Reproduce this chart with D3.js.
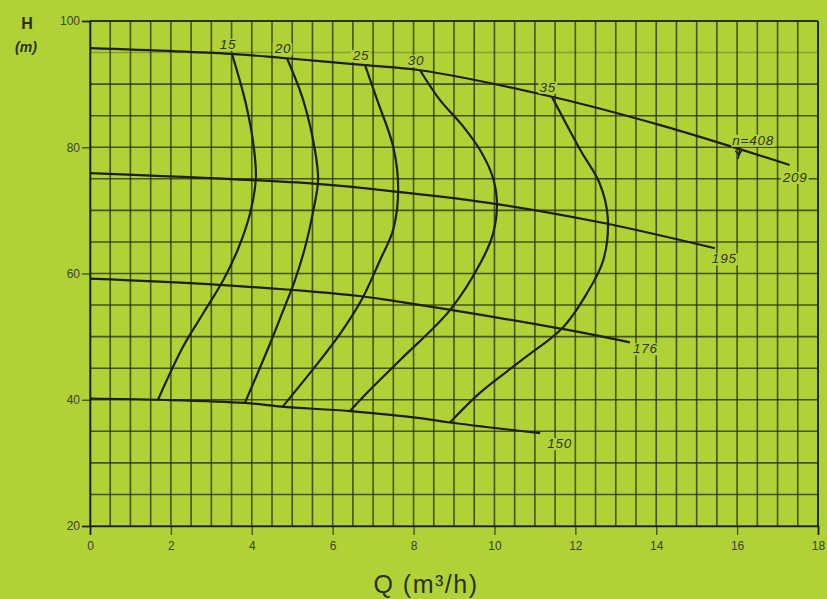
<!DOCTYPE html>
<html>
<head>
<meta charset="utf-8">
<script src="https://cdn.jsdelivr.net/npm/d3@7"></script>
<style>
  body { margin: 0; background: #b1d236; }
  svg { display: block; font-family: "Liberation Sans", Arial, sans-serif; }
</style>
</head>
<body>
<svg id="chart" width="827" height="599"></svg>
<script>
// axis ticks
const xTicks = [0, 2, 4, 6, 8, 10, 12, 14, 16, 18];
const yTicks = [20, 40, 60, 80, 100];

// head curves (Q m3/h, H m) per impeller diameter
const headLabels = ["209", "195", "176", "150"];
const head209 = [[0, 95.7], [3.46, 94.8], [4.87, 94.1], [6.8, 93.0], [8.16, 92.2], [11.42, 88.0], [14.1, 83.5], [17.3, 77.2]];
const head195 = [[0, 75.9], [5.6, 74.2], [7.67, 72.9], [10.06, 71.0], [12.7, 68.0], [15.45, 64.0]];
const head176 = [[0, 59.2], [3.2, 58.2], [6.7, 56.4], [7.67, 55.5], [11.6, 51.3], [13.35, 49.1]];
const head150 = [[0, 40.2], [1.7, 40.0], [3.83, 39.5], [4.74, 38.9], [6.43, 38.2], [8.16, 37.1], [8.9, 36.4], [11.13, 34.7]];

// efficiency curves (%)
const effLabels = ["15", "20", "25", "30", "35"];
const eff15 = [[3.51, 94.8], [3.85, 87], [4.05, 80], [4.1, 75], [3.96, 69.6], [3.68, 64.2], [3.3, 59.0], [2.8, 53.7], [2.3, 48.4], [1.68, 40.0]];
const eff20 = [[4.87, 94.1], [5.27, 87.5], [5.56, 79.6], [5.64, 74.8], [5.51, 69.6], [5.32, 64.2], [5.07, 59.0], [4.75, 53.7], [4.42, 48.4], [3.83, 39.5]];
const eff25 = [[6.8, 93.0], [7.1, 87.5], [7.5, 80], [7.62, 73.5], [7.5, 67], [7.17, 62.1], [6.73, 56], [6.2, 50.6], [5.56, 45.2], [4.75, 38.8]];
const eff30 = [[8.16, 92.2], [8.65, 87.5], [9.2, 83.5], [9.64, 79.6], [9.94, 75.6], [10.06, 71.6], [9.97, 66.4], [9.69, 62.1], [8.9, 54.2], [7.67, 46.3], [6.85, 41.1], [6.43, 38.2]];
const eff35 = [[11.42, 88], [12.12, 79.6], [12.6, 74.3], [12.8, 69], [12.69, 62.1], [12.29, 56.9], [11.7, 51.5], [10.68, 46.3], [9.64, 41.1], [8.9, 36.4]];

// speed marker on the 209 curve
const speedLabel = "n=408";
const speedPoint = [16.05, 79.6];

const headCurves = [head209, head195, head176, head150];
const effCurves = [eff15, eff20, eff25, eff30, eff35];

// label nudges in px (layout only)
const headLabelShift = [[-7, 17], [-3, 15], [3, 11], [7, 15]];

const bg = "#b1d236";
const ink = "#1c1f14";
const svg = d3.select("#chart");

const x = d3.scaleLinear().domain([0, 18]).range([90, 818]);
const y = d3.scaleLinear().domain([20, 100]).range([526, 21]);

// grid: every 0.5 on Q, every 5 on H
const grid = svg.append("g")
  .attr("stroke", "#26301a")
  .attr("stroke-opacity", 0.78)
  .attr("stroke-width", 1.6);

grid.selectAll(".vgrid")
  .data(d3.range(0, 18.01, 0.5))
  .enter().append("line")
  .attr("x1", d => x(d)).attr("x2", d => x(d))
  .attr("y1", y(100)).attr("y2", y(20));

grid.selectAll(".hgrid")
  .data(d3.range(20, 100.01, 5))
  .enter().append("line")
  .attr("x1", x(0)).attr("x2", x(18))
  .attr("y1", d => y(d)).attr("y2", d => y(d))
  .attr("stroke-opacity", d => d === 95 ? 0.3 : 0.78);

// axes
const xAxis = svg.append("g")
  .attr("transform", `translate(0,${y(20)})`)
  .call(d3.axisBottom(x).tickValues(xTicks).tickSize(9).tickPadding(6));
const yAxis = svg.append("g")
  .attr("transform", `translate(${x(0)},0)`)
  .call(d3.axisLeft(y).tickValues(yTicks).tickSize(8).tickPadding(2));

[xAxis, yAxis].forEach(a => {
  a.select(".domain").attr("stroke", ink).attr("stroke-width", 1.6);
  a.selectAll(".tick line").attr("stroke", ink).attr("stroke-width", 1.4).attr("stroke-opacity", 0.7);
  a.selectAll(".tick text")
    .attr("fill", "#3b4230")
    .style("font-size", "12px")
    .style("font-family", "'Liberation Sans', Arial, sans-serif");
});

// frame top and right
svg.append("line")
  .attr("x1", x(0)).attr("x2", x(18)).attr("y1", y(100)).attr("y2", y(100))
  .attr("stroke", ink).attr("stroke-width", 1.6);
svg.append("line")
  .attr("x1", x(18)).attr("x2", x(18)).attr("y1", y(100)).attr("y2", y(20))
  .attr("stroke", ink).attr("stroke-width", 1.6);

const line = d3.line()
  .x(d => x(d[0]))
  .y(d => y(d[1]))
  .curve(d3.curveCatmullRom.alpha(0.5));

svg.append("g").selectAll("path")
  .data(headCurves.concat(effCurves))
  .enter().append("path")
  .attr("d", line)
  .attr("fill", "none")
  .attr("stroke", ink)
  .attr("stroke-width", 2.2);

// labels with a patch of background behind them
function addLabel(text, px, py, anchor) {
  const g = svg.append("g");
  const t = g.append("text")
    .attr("x", px).attr("y", py)
    .attr("text-anchor", anchor)
    .attr("fill", "#2e3322")
    .style("font-size", "13.5px")
    .style("font-style", "italic")
    .style("letter-spacing", "0.8px")
    .text(text);
  const b = t.node().getBBox();
  g.insert("rect", "text")
    .attr("x", b.x - 1).attr("y", b.y + 2)
    .attr("width", b.width + 2).attr("height", b.height - 3)
    .attr("fill", bg);
}

headCurves.forEach((c, i) => {
  const end = c[c.length - 1];
  addLabel(headLabels[i], x(end[0]) + headLabelShift[i][0], y(end[1]) + headLabelShift[i][1], "start");
});

effCurves.forEach((c, i) => {
  const top = c[0];
  addLabel(effLabels[i], x(top[0]) - 4, y(top[1]) - 5, "middle");
});

// n=408 marker
const sx = x(speedPoint[0]), sy = y(speedPoint[1]);
svg.append("line")
  .attr("x1", sx + 1).attr("y1", sy - 4)
  .attr("x2", sx - 1).attr("y2", sy + 9)
  .attr("stroke", ink).attr("stroke-width", 1.6);
svg.append("path")
  .attr("d", `M${sx - 4},${sy + 1} L${sx},${sy + 5} L${sx + 3},${sy}`)
  .attr("fill", "none").attr("stroke", ink).attr("stroke-width", 1.4);
addLabel(speedLabel, sx + 14, sy - 5, "middle");

// axis titles
svg.append("text")
  .attr("x", 27).attr("y", 29)
  .attr("text-anchor", "middle")
  .attr("fill", "#2a3020")
  .style("font-size", "16px").style("font-weight", "bold")
  .text("H");
svg.append("text")
  .attr("x", 26).attr("y", 52)
  .attr("text-anchor", "middle")
  .attr("fill", "#2a3020")
  .style("font-size", "14px").style("font-weight", "bold").style("font-style", "italic")
  .text("(m)");
svg.append("text")
  .attr("x", 426).attr("y", 593)
  .attr("text-anchor", "middle")
  .attr("fill", "#2a3020")
  .style("font-size", "25px")
  .style("letter-spacing", "1.5px")
  .text("Q (m³/h)");
</script>
</body>
</html>
